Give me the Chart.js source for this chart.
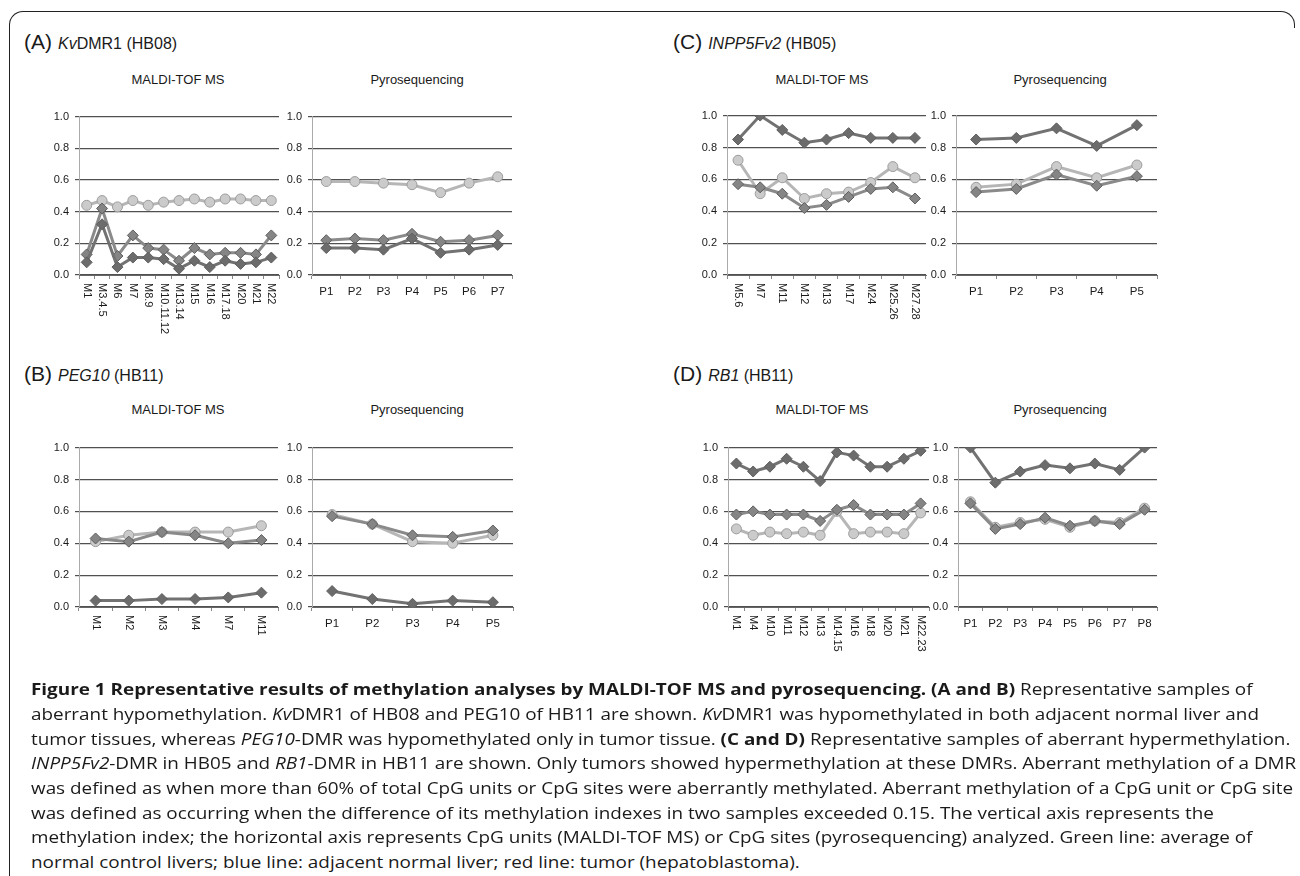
<!DOCTYPE html>
<html>
<head>
<meta charset="utf-8">
<script src="https://cdn.jsdelivr.net/npm/chart.js@4.4.0/dist/chart.umd.min.js"></script>
<style>
  body { margin: 0; background: #fff; width: 1300px; height: 876px; position: relative; overflow: hidden; font-family: "Liberation Sans", Arial, sans-serif; color: #1a1a1a; }
  .frame { position: absolute; left: 9px; top: 11px; width: 1270px; height: 900px; border-top: 1.5px solid #222; border-left: 1.5px solid #222; border-top-left-radius: 14px; }
  .corner { position: absolute; left: 1270px; top: 11px; width: 24px; height: 16px; border-top: 1.5px solid #222; border-right: 1.5px solid #222; border-top-right-radius: 14px; }
  .panel { position: absolute; font-size: 16px; white-space: nowrap; }
  .panel .big { font-size: 21px; margin-right: 6px; }
  .ttl { position: absolute; font-size: 13px; transform: translateX(-50%); white-space: nowrap; }
  canvas { position: absolute; }
  .cap { position: absolute; left: 31px; font-family: "Open Sans", "Noto Sans", sans-serif; font-size: 16.5px; white-space: nowrap; transform-origin: 0 50%; color: #1a1a1a; }
</style>
</head>
<body>
<div class="frame"></div>
<div class="corner"></div>

<div class="panel" style="left:24px; top:30px;"><span class="big">(A)</span><i>Kv</i>DMR1 (HB08)</div>
<div class="panel" style="left:673px; top:30px;"><span class="big">(C)</span><i>INPP5Fv2</i> (HB05)</div>
<div class="panel" style="left:24px; top:362px;"><span class="big">(B)</span><i>PEG10</i> (HB11)</div>
<div class="panel" style="left:673px; top:362px;"><span class="big">(D)</span><i>RB1</i> (HB11)</div>

<div class="ttl" style="left:178px; top:72px;">MALDI-TOF MS</div>
<div class="ttl" style="left:417px; top:72px;">Pyrosequencing</div>
<div class="ttl" style="left:822px; top:72px;">MALDI-TOF MS</div>
<div class="ttl" style="left:1060px; top:72px;">Pyrosequencing</div>
<div class="ttl" style="left:178px; top:402px;">MALDI-TOF MS</div>
<div class="ttl" style="left:417px; top:402px;">Pyrosequencing</div>
<div class="ttl" style="left:822px; top:402px;">MALDI-TOF MS</div>
<div class="ttl" style="left:1060px; top:402px;">Pyrosequencing</div>

<canvas id="aM"></canvas>
<canvas id="aP"></canvas>
<canvas id="cM"></canvas>
<canvas id="cP"></canvas>
<canvas id="bM"></canvas>
<canvas id="bP"></canvas>
<canvas id="dM"></canvas>
<canvas id="dP"></canvas>

<div class="cap" style="top:677px;"><b>Figure 1 Representative results of methylation analyses by MALDI-TOF MS and pyrosequencing. (A and B)</b> Representative samples of</div>
<div class="cap" style="top:702px;">aberrant hypomethylation. <i>Kv</i>DMR1 of HB08 and PEG10 of HB11 are shown. <i>Kv</i>DMR1 was hypomethylated in both adjacent normal liver and</div>
<div class="cap" style="top:727px;">tumor tissues, whereas <i>PEG10</i>-DMR was hypomethylated only in tumor tissue. <b>(C and D)</b> Representative samples of aberrant hypermethylation.</div>
<div class="cap" style="top:751px;"><i>INPP5Fv2</i>-DMR in HB05 and <i>RB1</i>-DMR in HB11 are shown. Only tumors showed hypermethylation at these DMRs. Aberrant methylation of a DMR</div>
<div class="cap" id="cap5" style="top:776px;">was defined as when more than 60% of total CpG units or CpG sites were aberrantly methylated. Aberrant methylation of a CpG unit or CpG site</div>
<div class="cap" style="top:801px;">was defined as occurring when the difference of its methylation indexes in two samples exceeded 0.15. The vertical axis represents the</div>
<div class="cap" style="top:825px;">methylation index; the horizontal axis represents CpG units (MALDI-TOF MS) or CpG sites (pyrosequencing) analyzed. Green line: average of</div>
<div class="cap" style="top:850px;">normal control livers; blue line: adjacent normal liver; red line: tumor (hepatoblastoma).</div>

<script>
// (A) KvDMR1 (HB08)
const aMaldiLabels = ['M1', 'M3.4.5', 'M6', 'M7', 'M8.9', 'M10.11.12', 'M13.14', 'M15', 'M16', 'M17.18', 'M20', 'M21', 'M22'];
const aMaldiGreen = [0.44, 0.47, 0.43, 0.47, 0.44, 0.46, 0.47, 0.48, 0.46, 0.48, 0.48, 0.47, 0.47];
const aMaldiBlue = [0.13, 0.42, 0.12, 0.25, 0.17, 0.16, 0.09, 0.17, 0.13, 0.14, 0.14, 0.13, 0.25];
const aMaldiRed = [0.08, 0.32, 0.05, 0.11, 0.11, 0.10, 0.04, 0.09, 0.05, 0.09, 0.07, 0.08, 0.11];
const aPyroLabels = ['P1', 'P2', 'P3', 'P4', 'P5', 'P6', 'P7'];
const aPyroGreen = [0.59, 0.59, 0.58, 0.57, 0.52, 0.58, 0.62];
const aPyroBlue = [0.22, 0.23, 0.22, 0.26, 0.21, 0.22, 0.25];
const aPyroRed = [0.17, 0.17, 0.16, 0.23, 0.14, 0.16, 0.19];

// (B) PEG10 (HB11)
const bMaldiLabels = ['M1', 'M2', 'M3', 'M4', 'M7', 'M11'];
const bMaldiGreen = [0.41, 0.45, 0.47, 0.47, 0.47, 0.51];
const bMaldiBlue = [0.43, 0.41, 0.47, 0.45, 0.40, 0.42];
const bMaldiRed = [0.04, 0.04, 0.05, 0.05, 0.06, 0.09];
const bPyroLabels = ['P1', 'P2', 'P3', 'P4', 'P5'];
const bPyroGreen = [0.58, 0.52, 0.41, 0.40, 0.45];
const bPyroBlue = [0.57, 0.52, 0.45, 0.44, 0.48];
const bPyroRed = [0.10, 0.05, 0.02, 0.04, 0.03];

// (C) INPP5Fv2 (HB05)
const cMaldiLabels = ['M5.6', 'M7', 'M11', 'M12', 'M13', 'M17', 'M24', 'M25.26', 'M27.28'];
const cMaldiGreen = [0.72, 0.51, 0.61, 0.48, 0.51, 0.52, 0.58, 0.68, 0.61];
const cMaldiBlue = [0.57, 0.55, 0.51, 0.42, 0.44, 0.49, 0.54, 0.55, 0.48];
const cMaldiRed = [0.85, 1.00, 0.91, 0.83, 0.85, 0.89, 0.86, 0.86, 0.86];
const cPyroLabels = ['P1', 'P2', 'P3', 'P4', 'P5'];
const cPyroGreen = [0.55, 0.57, 0.68, 0.61, 0.69];
const cPyroBlue = [0.52, 0.54, 0.63, 0.56, 0.62];
const cPyroRed = [0.85, 0.86, 0.92, 0.81, 0.94];

// (D) RB1 (HB11)
const dMaldiLabels = ['M1', 'M4', 'M10', 'M11', 'M12', 'M13', 'M14.15', 'M16', 'M18', 'M20', 'M21', 'M22.23'];
const dMaldiGreen = [0.49, 0.45, 0.47, 0.46, 0.47, 0.45, 0.60, 0.46, 0.47, 0.47, 0.46, 0.59];
const dMaldiBlue = [0.58, 0.60, 0.58, 0.58, 0.58, 0.54, 0.61, 0.64, 0.58, 0.58, 0.58, 0.65];
const dMaldiRed = [0.90, 0.85, 0.88, 0.93, 0.88, 0.79, 0.97, 0.95, 0.88, 0.88, 0.93, 0.98];
const dPyroLabels = ['P1', 'P2', 'P3', 'P4', 'P5', 'P6', 'P7', 'P8'];
const dPyroGreen = [0.66, 0.50, 0.53, 0.55, 0.50, 0.54, 0.53, 0.62];
const dPyroBlue = [0.65, 0.49, 0.52, 0.56, 0.51, 0.54, 0.52, 0.61];
const dPyroRed = [1.00, 0.78, 0.85, 0.89, 0.87, 0.90, 0.86, 1.00];

const yTicks = [0, 0.2, 0.4, 0.6, 0.8, 1.0];

const FONT = '"Liberation Sans", Arial, sans-serif';
const Y_W = 50, PAD_TOP = 8, PAD_RIGHT = 6;

// draws rotated category names reading top to bottom (like the original)
const rotLabels = {
    id: 'rotLabels',
    afterDraw(chart) {
        const xs = chart.scales.x;
        const ctx = chart.ctx;
        ctx.save();
        ctx.font = '11px ' + FONT;
        ctx.fillStyle = '#1a1a1a';
        ctx.textAlign = 'left';
        ctx.textBaseline = 'middle';
        chart.data.labels.forEach((lab, i) => {
            ctx.save();
            ctx.translate(xs.getPixelForTick(i), xs.top + 8);
            ctx.rotate(Math.PI / 2);
            ctx.fillText(lab, 0, 0);
            ctx.restore();
        });
        ctx.restore();
    }
};

function series(label, data, kind) {
    if (kind === 'green') {
        return { label, data, borderColor: '#b6b6b6', backgroundColor: '#cacaca', borderWidth: 3,
            pointStyle: 'circle', pointRadius: 5, pointBorderColor: '#9c9c9c', pointBorderWidth: 1,
            pointBackgroundColor: '#cbcbcb', tension: 0, order: 3 };
    }
    const c = kind === 'blue' ? '#8a8a8a' : '#727272';
    const pc = kind === 'blue' ? '#858585' : '#6c6c6c';
    return { label, data, borderColor: c, backgroundColor: pc, borderWidth: 3,
        pointStyle: 'rectRot', pointRadius: 5.5, pointBorderColor: '#5e5e5e', pointBorderWidth: 1,
        pointBackgroundColor: pc, tension: 0, order: kind === 'blue' ? 2 : 1 };
}

function makeChart(id, box, labels, green, blue, red, rotated) {
    const xH = rotated ? 80 : 40;
    const cv = document.getElementById(id);
    cv.width = Y_W + (box.R - box.L) + PAD_RIGHT;
    cv.height = PAD_TOP + (box.B - box.T) + xH;
    cv.style.left = (box.L - Y_W) + 'px';
    cv.style.top = (box.T - PAD_TOP) + 'px';
    new Chart(cv, {
        type: 'line',
        data: {
            labels: labels,
            datasets: [
                series('Green line: average of normal control livers', green, 'green'),
                series('Blue line: adjacent normal liver', blue, 'blue'),
                series('Red line: tumor (hepatoblastoma)', red, 'red')
            ]
        },
        options: {
            responsive: false,
            animation: false,
            layout: { autoPadding: false, padding: { top: PAD_TOP, right: PAD_RIGHT, left: 0, bottom: 0 } },
            plugins: { legend: { display: false }, tooltip: { enabled: false } },
            scales: {
                x: {
                    offset: true,
                    grid: { display: true, drawOnChartArea: false, drawTicks: true, tickLength: 4, color: '#888', offset: true },
                    border: { display: true, color: '#666', width: 1 },
                    ticks: { display: !rotated, font: { family: FONT, size: 11.5 }, color: '#1a1a1a', padding: 6, maxRotation: 0, autoSkip: false },
                    afterFit(s) { s.height = xH; }
                },
                y: {
                    min: 0, max: 1,
                    afterBuildTicks(s) { s.ticks = yTicks.map(v => ({ value: v })); },
                    grid: { color: '#505050', lineWidth: 1.2, tickLength: 4 },
                    border: { display: true, color: '#aaa', width: 1 },
                    ticks: { font: { family: FONT, size: 11 }, color: '#1a1a1a', padding: 6, callback: v => v.toFixed(1) },
                    afterFit(s) { s.width = Y_W; }
                }
            }
        },
        plugins: rotated ? [rotLabels] : []
    });
}

makeChart('aM', { L: 79, R: 279, T: 112, B: 275 }, aMaldiLabels, aMaldiGreen, aMaldiBlue, aMaldiRed, true);
makeChart('aP', { L: 312, R: 512, T: 112, B: 275 }, aPyroLabels, aPyroGreen, aPyroBlue, aPyroRed, false);
makeChart('cM', { L: 727, R: 926, T: 111, B: 275 }, cMaldiLabels, cMaldiGreen, cMaldiBlue, cMaldiRed, true);
makeChart('cP', { L: 956, R: 1157, T: 111, B: 275 }, cPyroLabels, cPyroGreen, cPyroBlue, cPyroRed, false);
makeChart('bM', { L: 79, R: 278, T: 443, B: 607 }, bMaldiLabels, bMaldiGreen, bMaldiBlue, bMaldiRed, true);
makeChart('bP', { L: 312, R: 513, T: 443, B: 607 }, bPyroLabels, bPyroGreen, bPyroBlue, bPyroRed, false);
makeChart('dM', { L: 728, R: 929, T: 443, B: 607 }, dMaldiLabels, dMaldiGreen, dMaldiBlue, dMaldiRed, true);
makeChart('dP', { L: 958, R: 1157, T: 443, B: 607 }, dPyroLabels, dPyroGreen, dPyroBlue, dPyroRed, false);

// one common horizontal squeeze for the caption, set by the longest line
const w5 = document.getElementById('cap5').getBoundingClientRect().width;
const capScale = (1293 - 31) / w5;
document.querySelectorAll('.cap').forEach(el => {
    el.style.transform = 'scaleX(' + capScale.toFixed(4) + ')';
});
</script>
</body>
</html>
